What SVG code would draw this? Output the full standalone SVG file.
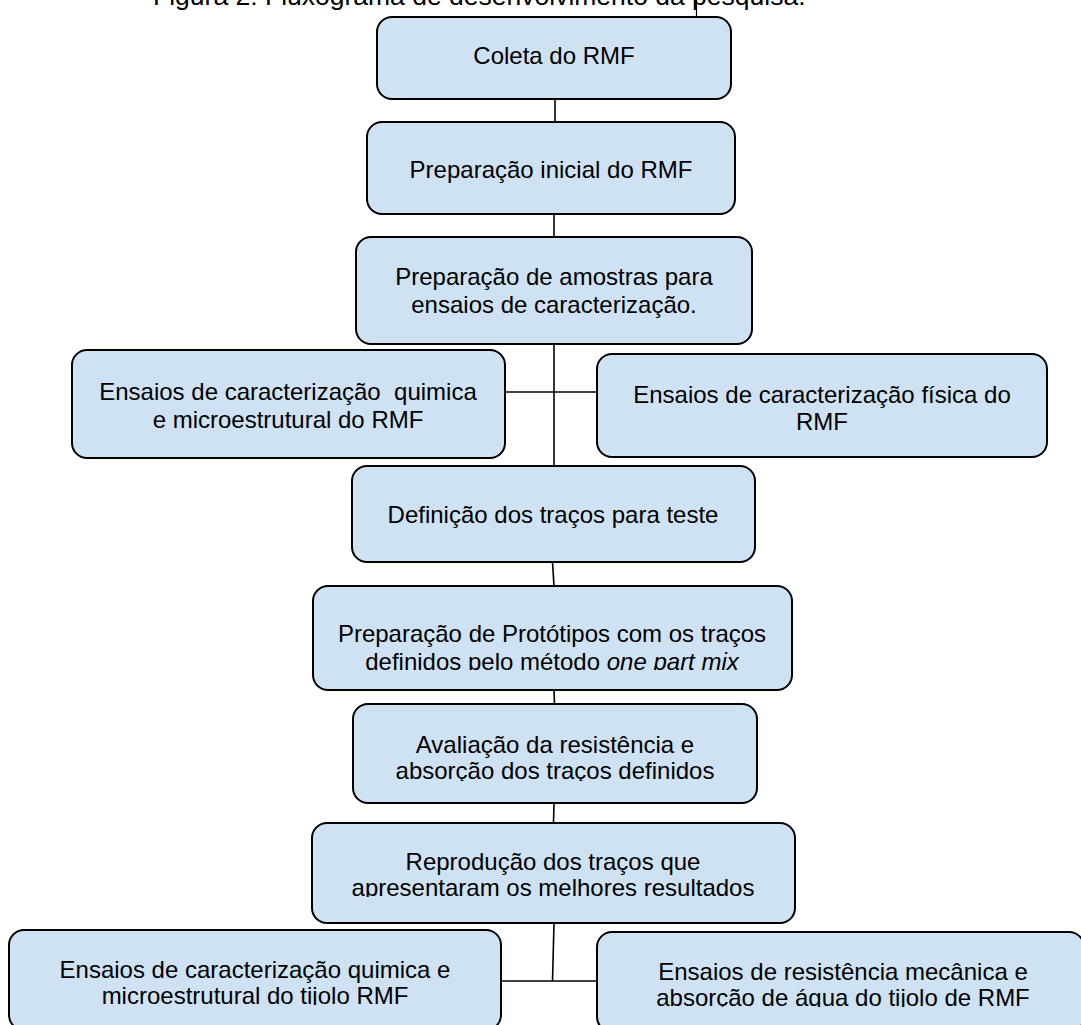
<svg xmlns="http://www.w3.org/2000/svg" width="1081" height="1025" viewBox="0 0 1081 1025">
<style>
.box{fill:#cfe2f3;stroke:#000;stroke-width:2}
.t{font-family:"Liberation Sans",Arial,sans-serif;font-size:24px;fill:#000;text-anchor:middle}
.title{font-family:"Liberation Sans",Arial,sans-serif;font-size:26.5px;fill:#000}
.c{stroke:#000;stroke-width:1.6;fill:none}
</style>
<defs>
<clipPath id="cp7"><rect x="313" y="586" width="479" height="84"/></clipPath>
<clipPath id="cp8"><rect x="353" y="704" width="404" height="77"/></clipPath>
<clipPath id="cp9"><rect x="312" y="823" width="483" height="74"/></clipPath>
<clipPath id="cp10"><rect x="9" y="930" width="492" height="75"/></clipPath>
<clipPath id="cp11"><rect x="597" y="932" width="487" height="75"/></clipPath>
</defs>
<rect width="1081" height="1025" fill="#fff"/>
<text class="title" x="153" y="5">Figura 2: Fluxograma de desenvolvimento da pesquisa.</text>
<line x1="696.5" y1="0" x2="696.5" y2="16" stroke="#000" stroke-width="1.2"/>
<g id="connectors">
<line class="c" x1="555" y1="99" x2="555" y2="122"/>
<line class="c" x1="554" y1="214" x2="554" y2="237"/>
<line class="c" x1="554" y1="344" x2="554" y2="466"/>
<line class="c" x1="505" y1="392" x2="597" y2="392"/>
<line class="c" x1="552.5" y1="562" x2="554" y2="586"/>
<line class="c" x1="554" y1="690" x2="554.5" y2="704"/>
<line class="c" x1="554" y1="803" x2="553.5" y2="823"/>
<line class="c" x1="554" y1="923" x2="552.5" y2="981"/>
<line class="c" x1="501" y1="981" x2="597" y2="981"/>
</g>
<g id="n1"><rect class="box" x="377" y="17" width="354" height="82" rx="15"/><text class="t" x="554" y="64">Coleta do RMF</text></g>
<g id="n2"><rect class="box" x="367" y="122" width="368" height="92" rx="15"/><text class="t" x="551" y="178">Preparação inicial do RMF</text></g>
<g id="n3"><rect class="box" x="356" y="237" width="396" height="107" rx="15"/><text class="t" x="554" y="285">Preparação de amostras para</text><text class="t" x="554" y="313">ensaios de caracterização.</text></g>
<g id="n4"><rect class="box" x="72" y="350" width="433" height="108" rx="15"/><text class="t" x="288" y="400" xml:space="preserve">Ensaios de caracterização  quimica</text><text class="t" x="288" y="428">e microestrutural do RMF</text></g>
<g id="n5"><rect class="box" x="597" y="354" width="450" height="103" rx="15"/><text class="t" x="822" y="403">Ensaios de caracterização física do</text><text class="t" x="822" y="430">RMF</text></g>
<g id="n6"><rect class="box" x="352" y="466" width="403" height="96" rx="15"/><text class="t" x="553" y="523">Definição dos traços para teste</text></g>
<g id="n7"><rect class="box" x="313" y="586" width="479" height="104" rx="15"/><text class="t" x="552" y="642">Preparação de Protótipos com os traços</text><text class="t" x="552" y="670" clip-path="url(#cp7)">definidos pelo método <tspan font-style="italic">one part mix</tspan></text></g>
<g id="n8"><rect class="box" x="353" y="704" width="404" height="99" rx="15"/><text class="t" x="555" y="753">Avaliação da resistência e</text><text class="t" x="555" y="779" clip-path="url(#cp8)">absorção dos traços definidos</text></g>
<g id="n9"><rect class="box" x="312" y="823" width="483" height="100" rx="15"/><text class="t" x="553" y="870">Reprodução dos traços que</text><text class="t" x="553" y="896" clip-path="url(#cp9)">apresentaram os melhores resultados</text></g>
<g id="n10"><rect class="box" x="9" y="930" width="492" height="100" rx="15"/><text class="t" x="255" y="978">Ensaios de caracterização quimica e</text><text class="t" x="255" y="1004" clip-path="url(#cp10)">microestrutural do tijolo RMF</text></g>
<g id="n11"><rect class="box" x="597" y="932" width="487" height="100" rx="15"/><text class="t" x="843" y="980">Ensaios de resistência mecânica e</text><text class="t" x="843" y="1006" clip-path="url(#cp11)">absorção de água do tijolo de RMF</text></g>
</svg>
